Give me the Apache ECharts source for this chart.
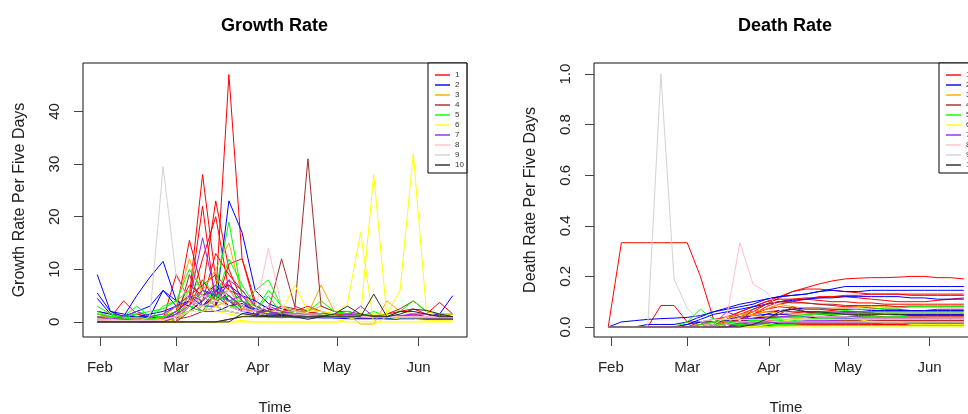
<!DOCTYPE html>
<html><head><meta charset="utf-8">
<script src="https://cdn.jsdelivr.net/npm/echarts@6.0.0/dist/echarts.min.js"></script>
<style>html,body{margin:0;padding:0;background:#fff}#c{width:968px;height:414px}</style>
</head><body><div id="c"></div>
<script>
// ---- x positions (sample dates, every five days) ----
const dates = ['2020-01-31','2020-02-05','2020-02-10','2020-02-15','2020-02-20','2020-02-25','2020-03-01','2020-03-06','2020-03-11','2020-03-16','2020-03-21','2020-03-26','2020-03-31','2020-04-05','2020-04-10','2020-04-15','2020-04-20','2020-04-25','2020-04-30','2020-05-05','2020-05-10','2020-05-15','2020-05-20','2020-05-25','2020-05-30','2020-06-04','2020-06-09','2020-06-14'];
const monthStarts = ['2020-02-01','2020-03-01','2020-04-01','2020-05-01','2020-06-01'];
const monthLabels = ['Feb','Mar','Apr','May','Jun'];
const legendLabels = ['1','2','3','4','5','6','7','8','9','10'];
const growthTicks = [0,10,20,30,40];
const deathTicks = [0,0.2,0.4,0.6,0.8,1.0];

// ---- Growth rate per five days ----
const gRed1 = [1.5,1,0.5,0.5,0.5,0.5,1,2,3,5,47,12,3,2,1.5,1,1.5,1,1,1.2,1,0.8,1,1,1.2,1,1,0.8];
const gRed2 = [0.5,0.3,0.2,0.3,0.5,1,3,5,28,8,4,3,2,2,1.5,1.5,1.2,1,1,0.8,0.8,1,0.8,0.6,0.8,0.6,0.5,0.5];
const gRed3 = [0,0,0,0,0,0.5,2,15.5,6,23,10,4,2.5,2,1.8,1.5,1.2,1.5,1,1,1,1.2,1,0.8,1,0.8,0.8,0.7];
const gRed4 = [1,0.8,4,1.5,1,0.5,9,4,22,3,11,12,4,2.5,2,2.5,2,1.5,1.5,1.2,1,1,1.5,2,2.5,1.5,3.7,1.5];
const gRed5 = [0,0,0,0,0,0,1,3,12,20,6,3,2,1.5,1.5,1.2,1,1,1,0.8,0.8,0.8,0.8,0.6,0.6,0.5,0.5,0.5];
const gRed6 = [2,1.5,1.2,1,0.8,1,2,7,5,3,8,2,2,1.5,3,1.5,2,1,1,1,1.2,1,1,1,1,0.8,0.8,0.8];
const gRed7 = [0.3,0.2,0,0,0,0.3,1,4,2,6,3,4,1.5,1,1,2,3,2,1,1,1,1,0.8,1,1.5,1,1.5,1];
const gRed8 = [0,0,0,0,0,0,0.5,3,8,4,5,2.5,2,1.5,1.5,1.2,1,1,1,0.8,0.8,0.8,0.8,0.8,0.6,0.6,0.6,0.6];
const gRed9 = [1,0.5,0.5,0.5,0.3,0.5,1.5,5,7,9,6,5,3,2,1.5,1.5,1.2,1,1,1,1,1,0.8,0.8,0.8,0.8,0.8,0.8];
const gRed10 = [0,0,0,0,0,0,0,2,4,13,9,6,3,2,1.5,1.2,1,1,1,1,1,0.8,0.8,0.8,0.8,0.8,0.8,0.8];
const gBlue1 = [9,2,1.5,1,1,0.8,1,2,3,2,3,2,1.5,1.2,1,1,1,0.8,0.8,0.8,1,0.8,0.8,0.6,0.6,0.6,0.5,0.5];
const gBlue2 = [5.5,2,1,2,3,6,3,5,3,6,4,2,2,1.5,1.5,1,1,1,0.8,0.8,0.8,0.8,0.6,0.6,0.6,1,1.5,5];
const gBlue3 = [4.5,1.5,1,5,8.5,11.5,4,3,2,3,2,1.5,1,1,1,0.8,0.8,0.8,0.8,0.6,0.6,0.6,0.6,0.5,0.5,0.5,0.5,0.5];
const gBlue4 = [0,0,0,0,0,0,1,2,3,3,23,17,6,3.5,2.5,2,1.5,1.5,1,1,1,1,1,0.8,0.8,0.8,0.8,0.8];
const gBlue5 = [1,1,0.5,0.5,1,6,4,3,5,7,4,3,2,2,1.5,1,1,1,1,1,1,0.8,0.8,0.8,1,1,1.2,1];
const gBlue6 = [0.5,0.5,0.5,0.5,0.5,0.5,2,4,6,5,3,3.5,2,1.5,1.2,1.5,1,1,1,1,1,1,1,1,1,1,1,1];
const gBlue7 = [0,0,0,0,0,0,0.5,2,4,6,7,5,4,2.5,2,1.5,1.2,1,1,1,1,1,1,1,0.8,0.8,0.8,0.8];
const gBlue8 = [2,1.5,1,1,1.5,2,3,4,3,5,4,3,2.5,2,1.5,1.5,1.2,1.2,1,1,1,1,1,1,1,1,1,1];
const gOrange1 = [1.5,1,0.8,0.8,0.5,1,3,12,5,3,4,3,2,3,2,2,1.5,7,2,1.5,-0.4,-0.4,4,2,1.5,1.5,1,1.5];
const gOrange2 = [0.5,0.5,0.3,0.3,0.3,0.5,1,4,6,10,15,5,3,2,1.5,1.5,2.5,2,1.5,1.5,1.2,1,1,1,1,1,1,1];
const gOrange3 = [1,1,0.5,0.5,0.5,0.5,2,6,3,4,3,2.5,2,1.5,3,1.5,2,3,2,1.5,1.5,1,1,1,1,1,1,1];
const gOrange4 = [0.8,0.8,0.5,0.5,0.5,0.8,2,5,4,8,6,3,2,2,1.5,1.5,1.5,1.2,1.2,1,1,1,1,1,1,1,1,1];
const gBrown1 = [0,0,0,0,0,0,0.5,1,2,2,2,1.5,1.5,2,3,2.5,31,3,2,2,1.5,1.2,1.5,2.5,4,2,1.5,1.5];
const gBrown2 = [0,0,0,0,0,0,0,9,3,4,5,3,2,2,12,3,2,1.5,1.5,1.5,1.5,1.2,1,1,1,1,0.8,0.8];
const gBrown3 = [0,0,0,0,0,0,0,0,0,0,0.5,1,1.2,1,0.8,1,1,1.2,1,1,0.8,0.8,1,1,0.8,0.5,0.5,0.5];
const gGreen1 = [3,1.5,1,3,1,1.5,3,5,4,6,19,5,2,6,3,2,2,2,1.5,2,1,2,1,2,4,2,1.5,1.5];
const gGreen2 = [2,1,0.5,1,0.5,3,4,10,6,4,3,3,6,8,3,2,2,4,2,1.5,1.5,1.2,1,1,1,1,1,1];
const gGreen3 = [0.5,0.5,0.3,2,1,1,2,3,2,5,4,4,2,5,1.5,2,1.5,1,1,1,1,1,1,1,1,1,1,1];
const gGreen4 = [0,0,0,0,0.5,1,1.5,2,6,4,5,3,2,1.5,1.5,1.2,1,1,1,1,1,1,0.8,0.8,0.8,0.8,0.8,0.8];
const gGreen5 = [1.5,1,1,1.5,2,2.5,4,6,8,5,6,4,3,2,2,1.5,1.5,1.5,1.2,1.2,1,1,1,1,1,1,1,1];
const gGreen6 = [0,0,0,0,0,0,1,2,3,4,12,7,3,2,1.5,1.5,1.2,1,1,1,1,1,1,1,1,1,1,1];
const gYellow1 = [0.5,0.3,0.3,0.3,0.2,0.3,1,2,2,3,2,1.5,1,1,1,1,1,1,1,1,1,1.5,1.5,6,32,2,1.5,1.5];
const gYellow2 = [0,0,0,0,0,0,0.5,2,3,2,1.5,1,1,2,2,7,2,2,1.5,3.5,17,-0.5,1,1,1,1,1,1];
const gYellow3 = [0,0,0,0,0,0,0,0,0,0,0,0,0,0,0,0,0,0,0,0.5,1,28,1,0.5,0.5,0.3,0.3,0.3];
const gYellow4 = [0,0,0,0,0,0,0,0,0,0,0,0.3,0,0,0,0,0,0,0,0,0,0,0,0,0,0,0,0];
const gPurple1 = [1,0.5,0.5,0.3,0.3,0.5,2,4,16,5,7,4,2,2,1.5,1.5,1.5,1.2,1,1,3,1,1,1,1,0.8,0.8,0.8];
const gPurple2 = [0.5,0.5,1,2,1,1.5,3,5,4,7,5,3,2,3,2,1.5,1,1,1,1.5,1.2,1,1,1.2,1.5,1.5,1,1];
const gPurple3 = [0,0,0,0,0,0,1,3,5,6,4,5,2,1.5,1.5,1,1,1,1,1,1,1,1,1,1,1,1,1];
const gPurple4 = [0,0,0,0,0,0.5,1.5,3,6,5,8,6,3,2,1.5,1.5,1.2,1,1,1,1,1.2,1,1,1,1,1,1];
const gPink1 = [0.3,0.3,0.2,0.2,0.2,0.3,1,2,3,4,3,2,2,14,3,2,1.5,1.5,1,1,1,1,1,1,1,1,1,1];
const gPink2 = [0.5,0.5,0.3,0.3,0.3,0.5,1,3,5,4,6,3,2,3,1.5,1.5,1.2,1,1,1,1,1,1,1,1,1,1,1];
const gGrey1 = [0,0,0,0,1,29.5,8.6,4,3,2,2,1.5,1,1,1,1,1,1,1,1,1,0.8,0.8,0.8,0.8,0.8,0.8,0.8];
const gDark1 = [0,0,0,0,0,0,0,0,0,0,0,1.6,1.2,1,1.5,1,0.5,1,1.5,3,1.5,1,1,1.5,2.4,2.2,1.5,1];
const gDark2 = [0,0,0,0,0,0,0,0,0,0,0.5,1,1,1,1,1,1,1,1,1,1,5.3,1,2,2,1.5,1,1];

// ---- Death rate per five days ----
const dRed1 = [0,0,0,0,0,0,0,0,0.01,0.03,0.05,0.07,0.09,0.115,0.14,0.155,0.17,0.182,0.19,0.193,0.195,0.195,0.197,0.2,0.2,0.195,0.195,0.19];
const dRed2 = [0,0.333,0.333,0.333,0.333,0.333,0.333,0.2,0.03,0.02,0.02,0.015,0.015,0.01,0.01,0.01,0.01,0.01,0.01,0.01,0.01,0.01,0.01,0.01,0.01,0.01,0.01,0.01];
const dRed3 = [0,0,0,0,0.085,0.085,0.02,0.02,0.03,0.04,0.05,0.06,0.07,0.08,0.075,0.07,0.07,0.065,0.06,0.06,0.055,0.05,0.05,0.05,0.05,0.05,0.05,0.05];
const dRed4 = [0,0,0,0,0,0,0,0,0.01,0.03,0.06,0.08,0.1,0.12,0.14,0.15,0.15,0.145,0.14,0.135,0.13,0.13,0.13,0.125,0.125,0.125,0.125,0.125];
const dRed5 = [0,0,0,0,0,0,0,0.01,0.02,0.04,0.06,0.08,0.1,0.11,0.11,0.115,0.115,0.12,0.12,0.115,0.11,0.105,0.1,0.1,0.1,0.105,0.11,0.115];
const dRed6 = [0,0,0,0,0,0,0,0,0,0.02,0.04,0.06,0.09,0.1,0.1,0.095,0.09,0.085,0.08,0.08,0.075,0.07,0.07,0.065,0.065,0.07,0.07,0.07];
const dRed7 = [0,0,0,0,0,0,0,0,0.01,0.02,0.03,0.05,0.06,0.065,0.06,0.06,0.055,0.05,0.05,0.045,0.045,0.04,0.04,0.04,0.04,0.04,0.04,0.04];
const dRed8 = [0,0,0,0,0,0,0,0,0,0.01,0.03,0.05,0.07,0.09,0.1,0.11,0.12,0.12,0.125,0.125,0.13,0.13,0.13,0.13,0.13,0.13,0.13,0.13];
const dRed9 = [0,0,0,0,0,0,0,0.02,0.02,0.03,0.03,0.02,0.02,0.015,0.015,0.015,0.015,0.015,0.015,0.015,0.015,0.01,0.01,0.01,0.01,0.01,0.01,0.01];
const dRed10 = [0,0,0,0,0,0,0,0,0,0.01,0.02,0.03,0.04,0.05,0.055,0.06,0.06,0.06,0.06,0.06,0.06,0.06,0.06,0.06,0.06,0.06,0.06,0.06];
const dRed11 = [0,0,0,0,0,0,0,0,0,0,0.01,0.02,0.025,0.03,0.03,0.03,0.03,0.03,0.03,0.03,0.03,0.025,0.025,0.025,0.025,0.025,0.025,0.025];
const dRed12 = [0,0,0,0,0,0,0,0,0,0,0.02,0.05,0.08,0.1,0.11,0.11,0.105,0.1,0.1,0.095,0.095,0.09,0.09,0.09,0.09,0.09,0.09,0.09];
const dBlue1 = [0,0.02,0.025,0.03,0.033,0.035,0.038,0.045,0.06,0.075,0.09,0.1,0.11,0.12,0.125,0.13,0.14,0.15,0.16,0.16,0.16,0.16,0.16,0.16,0.16,0.16,0.16,0.16];
const dBlue2 = [0,0,0,0.01,0.01,0.01,0.02,0.04,0.06,0.07,0.08,0.09,0.11,0.12,0.125,0.13,0.14,0.145,0.14,0.14,0.145,0.145,0.145,0.145,0.145,0.145,0.145,0.145];
const dBlue3 = [0,0,0,0,0,0,0.01,0.03,0.05,0.06,0.07,0.08,0.09,0.1,0.105,0.11,0.115,0.115,0.12,0.12,0.12,0.12,0.12,0.115,0.115,0.11,0.11,0.11];
const dBlue4 = [0,0,0,0,0,0,0,0.01,0.02,0.03,0.04,0.045,0.05,0.05,0.05,0.05,0.055,0.055,0.055,0.055,0.055,0.05,0.05,0.05,0.05,0.05,0.05,0.05];
const dBlue5 = [0,0,0,0,0,0,0.01,0.02,0.02,0.025,0.03,0.035,0.04,0.04,0.04,0.04,0.035,0.035,0.035,0.035,0.035,0.035,0.035,0.035,0.035,0.03,0.03,0.03];
const dBlue6 = [0,0,0,0,0,0,0,0,0,0.01,0.02,0.03,0.05,0.065,0.07,0.075,0.075,0.07,0.07,0.07,0.065,0.065,0.065,0.065,0.065,0.065,0.065,0.065];
const dBlue7 = [0,0,0,0,0,0,0,0,0,0,0,0.005,0.01,0.015,0.02,0.02,0.02,0.02,0.02,0.02,0.02,0.02,0.02,0.02,0.02,0.02,0.02,0.02];
const dOrange1 = [0,0,0,0,0,0,0,0.01,0.02,0.03,0.05,0.06,0.07,0.09,0.08,0.075,0.075,0.075,0.075,0.08,0.08,0.08,0.08,0.085,0.085,0.085,0.085,0.085];
const dOrange2 = [0,0,0,0,0,0,0,0,0.02,0.04,0.05,0.045,0.04,0.04,0.035,0.03,0.03,0.03,0.025,0.025,0.02,0.02,0.02,0.02,0.015,0.015,0.015,0.015];
const dOrange3 = [0,0,0,0,0,0,0,0,0,0.02,0.04,0.05,0.06,0.055,0.05,0.05,0.05,0.05,0.05,0.05,0.05,0.05,0.045,0.045,0.045,0.045,0.045,0.045];
const dBrown1 = [0,0,0,0,0,0,0,0,0,0,0.01,0.02,0.03,0.05,0.08,0.06,0.05,0.045,0.04,0.04,0.04,0.035,0.035,0.035,0.035,0.035,0.035,0.035];
const dBrown2 = [0,0,0,0,0,0,0,0,0,0,0.02,0.07,0.09,0.1,0.095,0.095,0.09,0.09,0.085,0.085,0.085,0.085,0.08,0.08,0.08,0.08,0.08,0.08];
const dBrown3 = [0,0,0,0,0,0,0,0,0,0,0,0,0.005,0.01,0.015,0.02,0.02,0.025,0.025,0.025,0.025,0.025,0.025,0.025,0.025,0.025,0.025,0.025];
const dGreen1 = [0,0,0,0,0,0,0.02,0.07,0.03,0.02,0.02,0.025,0.03,0.04,0.045,0.05,0.055,0.06,0.065,0.07,0.07,0.075,0.075,0.08,0.08,0.08,0.08,0.08];
const dGreen2 = [0,0,0,0,0,0,0,0,0.01,0.015,0.02,0.025,0.03,0.035,0.04,0.045,0.05,0.05,0.05,0.055,0.055,0.055,0.055,0.055,0.055,0.055,0.055,0.055];
const dGreen3 = [0,0,0,0,0,0,0,0,0,0,0,0.005,0.01,0.01,0.01,0.015,0.015,0.015,0.015,0.015,0.015,0.02,0.02,0.02,0.02,0.02,0.02,0.02];
const dGreen4 = [0,0,0,0,0,0,0,0.01,0.02,0.01,0.015,0.02,0.02,0.025,0.03,0.03,0.035,0.035,0.04,0.04,0.04,0.04,0.04,0.045,0.045,0.045,0.045,0.045];
const dGreen5 = [0,0,0,0,0,0,0,0,0.005,0.01,0.01,0.01,0.015,0.02,0.025,0.03,0.03,0.03,0.03,0.03,0.03,0.03,0.03,0.03,0.03,0.03,0.03,0.03];
const dGreen6 = [0,0,0,0,0,0,0,0,0,0,0,0,0,0.005,0.005,0.005,0.005,0.005,0.005,0.005,0.005,0.005,0.005,0.005,0.005,0.005,0.005,0.005];
const dYellow1 = [0,0,0,0,0,0,0,0,0,0,0,0,0.01,0.02,0.03,0.03,0.03,0.03,0.03,0.03,0.02,0.02,0.02,0.01,0.01,0.01,0.01,0.01];
const dYellow2 = [0,0,0,0,0,0,0,0,0,0,0,0,0,0,0,0,0,0,0,0,0,0,0,0,0,0,0,0];
const dPurple1 = [0,0,0,0,0,0,0,0,0.01,0.06,0.04,0.03,0.035,0.04,0.045,0.045,0.04,0.04,0.04,0.04,0.035,0.035,0.035,0.035,0.035,0.035,0.035,0.035];
const dPurple2 = [0,0,0,0,0,0,0,0,0,0,0.005,0.01,0.015,0.02,0.02,0.025,0.025,0.025,0.03,0.03,0.03,0.03,0.03,0.03,0.03,0.03,0.03,0.03];
const dPurple3 = [0,0,0,0,0,0,0,0,0,0.01,0.015,0.02,0.02,0.02,0.015,0.015,0.015,0.015,0.015,0.015,0.015,0.015,0.015,0.015,0.015,0.015,0.015,0.015];
const dPink1 = [0,0,0,0,0,0,0,0,0.01,0.04,0.333,0.168,0.14,0.066,0.05,0.045,0.04,0.04,0.04,0.035,0.035,0.035,0.035,0.035,0.035,0.035,0.035,0.035];
const dPink2 = [0,0,0,0,0,0,0,0,0,0.01,0.02,0.02,0.025,0.02,0.02,0.02,0.02,0.02,0.02,0.02,0.02,0.02,0.02,0.02,0.02,0.02,0.02,0.02];
const dGrey1 = [0,0,0,0,1,0.19,0.073,0.02,0.03,0.03,0.03,0.03,0.03,0.03,0.03,0.03,0.03,0.03,0.03,0.03,0.03,0.03,0.03,0.03,0.03,0.03,0.03,0.03];
const dDark1 = [0,0,0,0,0,0,0,0,0,0,0,0.01,0.03,0.06,0.07,0.06,0.06,0.055,0.05,0.05,0.05,0.05,0.05,0.045,0.045,0.045,0.045,0.045];

const growthLines = [
  ['1',gRed1],['1',gRed2],['1',gRed3],['1',gRed4],['1',gRed5],['1',gRed6],['1',gRed7],['1',gRed8],['1',gRed9],['1',gRed10],
  ['2',gBlue1],['2',gBlue2],['2',gBlue3],['2',gBlue4],['2',gBlue5],['2',gBlue6],['2',gBlue7],['2',gBlue8],
  ['3',gOrange1],['3',gOrange2],['3',gOrange3],['3',gOrange4],
  ['4',gBrown1],['4',gBrown2],['4',gBrown3],
  ['5',gGreen1],['5',gGreen2],['5',gGreen3],['5',gGreen4],['5',gGreen5],['5',gGreen6],
  ['6',gYellow1],['6',gYellow2],['6',gYellow3],['6',gYellow4],
  ['7',gPurple1],['7',gPurple2],['7',gPurple3],['7',gPurple4],
  ['8',gPink1],['8',gPink2],['9',gGrey1],['10',gDark1],['10',gDark2]
];
const deathLines = [
  ['1',dRed1],['1',dRed2],['1',dRed3],['1',dRed4],['1',dRed5],['1',dRed6],['1',dRed7],['1',dRed8],['1',dRed9],['1',dRed10],['1',dRed11],['1',dRed12],
  ['2',dBlue1],['2',dBlue2],['2',dBlue3],['2',dBlue4],['2',dBlue5],['2',dBlue6],['2',dBlue7],
  ['3',dOrange1],['3',dOrange2],['3',dOrange3],['4',dBrown1],['4',dBrown2],['4',dBrown3],
  ['5',dGreen1],['5',dGreen2],['5',dGreen3],['5',dGreen4],['5',dGreen5],['5',dGreen6],
  ['6',dYellow1],['6',dYellow2],['7',dPurple1],['7',dPurple2],['7',dPurple3],
  ['8',dPink1],['8',dPink2],['9',dGrey1],['10',dDark1]
];

const groupColors = {'1':'#FF0000','2':'#0000FF','3':'#FFA500','4':'#A52A2A','5':'#00FF00','6':'#FFFF00','7':'#A020F0','8':'#FFC0CB','9':'#D3D3D3','10':'#2a2a2a'};

const DAY = 86400000;
const origin = Date.parse('2020-02-01');
const dayOf = d => (Date.parse(d) - origin) / DAY;
const dayNum = dates.map(dayOf);
const monthDays = monthStarts.map(dayOf);
const FONT = 'Liberation Sans, Arial, Helvetica, sans-serif';

function buildSeries(lines, idx) {
  return lines.map(([g, vals]) => ({
    type: 'line', name: g, xAxisIndex: idx, yAxisIndex: idx,
    data: vals.map((v, i) => [dayNum[i], v]),
    symbol: 'none', showSymbol: false, silent: true, animation: false,
    lineStyle: { width: 1, color: groupColors[g] },
    itemStyle: { color: groupColors[g] },
    emphasis: { disabled: true }
  }));
}

function xAxisDef(idx) {
  return {
    type: 'value', gridIndex: idx, min: -6.4, max: 139.4,
    axisLine: { show: false, onZero: false },
    splitLine: { show: false },
    axisTick: { show: true, length: 9, customValues: monthDays, lineStyle: { color: '#444', width: 1 } },
    axisLabel: { customValues: monthDays, margin: 23, fontSize: 15, color: '#222', fontFamily: FONT,
      formatter: v => monthLabels[monthDays.indexOf(v)] },
    name: 'Time', nameLocation: 'middle', nameGap: 63,
    nameTextStyle: { fontSize: 15, color: '#222', fontFamily: FONT }
  };
}
function yAxisDef(idx, min, max, ticks, fmt, name) {
  return {
    type: 'value', gridIndex: idx, min: min, max: max,
    axisLine: { show: false, onZero: false },
    splitLine: { show: false },
    axisTick: { show: true, length: 9, customValues: ticks, lineStyle: { color: '#444', width: 1 } },
    axisLabel: { customValues: ticks, rotate: 90, margin: 21, fontSize: 15, color: '#222', fontFamily: FONT, formatter: fmt },
    name: name, nameLocation: 'middle', nameGap: 55, nameRotate: 90,
    nameTextStyle: { fontSize: 16, color: '#222', fontFamily: FONT }
  };
}
function legendDef(left) {
  return {
    data: legendLabels, left: left, top: 63, orient: 'vertical',
    icon: 'rect', itemWidth: 15, itemHeight: 2, itemGap: 0, itemTextGap: 6,
    padding: [7, 3, 3, 7], borderColor: '#000', borderWidth: 1, backgroundColor: '#fff',
    selectedMode: false, itemStyle: { opacity: 0.7 },
    textStyle: { fontSize: 8, lineHeight: 10, color: '#333', fontFamily: FONT }
  };
}

const chart = echarts.init(document.getElementById('c'), null, { renderer: 'canvas' });
chart.setOption({
  animation: false,
  backgroundColor: '#fff',
  title: [
    { text: 'Growth Rate', left: 221, top: 17, padding: 0, textStyle: { fontSize: 18, fontWeight: 'bold', color: '#000', fontFamily: FONT } },
    { text: 'Death Rate', left: 738, top: 17, padding: 0, textStyle: { fontSize: 18, fontWeight: 'bold', color: '#000', fontFamily: FONT } }
  ],
  grid: [
    { left: 83, top: 63, width: 384, height: 274, show: true, borderColor: '#111', borderWidth: 1, backgroundColor: 'transparent', containLabel: false, outerBoundsMode: 'none' },
    { left: 594, top: 63, width: 384, height: 274, show: true, borderColor: '#111', borderWidth: 1, backgroundColor: 'transparent', containLabel: false, outerBoundsMode: 'none' }
  ],
  xAxis: [xAxisDef(0), xAxisDef(1)],
  yAxis: [
    yAxisDef(0, -2.86, 49.2, growthTicks, v => String(v), 'Growth Rate Per Five Days'),
    yAxisDef(1, -0.0396, 1.0436, deathTicks, v => v.toFixed(1), 'Death Rate Per Five Days')
  ],
  legend: [legendDef(428), legendDef(939)],
  series: buildSeries(growthLines, 0).concat(buildSeries(deathLines, 1))
});
</script>
</body></html>
